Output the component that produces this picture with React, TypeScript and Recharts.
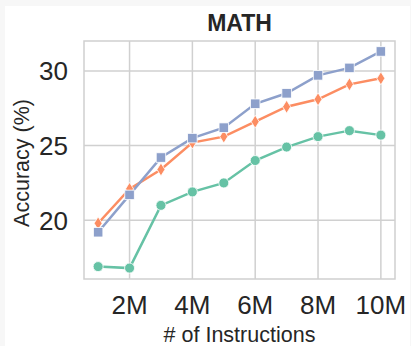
import React from 'react';
import { LineChart, Line, XAxis, YAxis, CartesianGrid, ReferenceArea } from 'recharts';

const instructions = [1, 2, 3, 4, 5, 6, 7, 8, 9, 10];
const seriesGreen = [16.9, 16.8, 21.0, 21.9, 22.5, 24.0, 24.9, 25.6, 26.0, 25.7];
const seriesOrange = [19.8, 22.1, 23.4, 25.2, 25.6, 26.6, 27.6, 28.1, 29.1, 29.5];
const seriesBlue = [19.2, 21.7, 24.2, 25.5, 26.2, 27.8, 28.5, 29.7, 30.2, 31.3];
const xTicks = [2, 4, 6, 8, 10];
const yTicks = [20, 25, 30];

const X_DOMAIN: [number, number] = [0.55, 10.45];
const Y_DOMAIN: [number, number] = [16.07, 32.0];

const data = instructions.map((x, i) => ({
  x,
  green: seriesGreen[i],
  orange: seriesOrange[i],
  blue: seriesBlue[i],
}));

const FONT = '"Liberation Sans", Arial, sans-serif';
const GRID = '#d0d0d0';

const SquareDot = (props: any) => {
  const { cx, cy } = props;
  if (cx == null || cy == null) return null;
  const s = 9.5;
  return <rect x={cx - s / 2} y={cy - s / 2} width={s} height={s} fill="#8da0cb" stroke="#fff" strokeWidth={0.8} />;
};

const DiamondDot = (props: any) => {
  const { cx, cy } = props;
  if (cx == null || cy == null) return null;
  const w = 4;
  const h = 6.5;
  return (
    <path
      d={`M${cx},${cy - h} L${cx + w},${cy} L${cx},${cy + h} L${cx - w},${cy} Z`}
      fill="#fc8d62"
      stroke="#fff"
      strokeWidth={0.8}
    />
  );
};

const CircleDot = (props: any) => {
  const { cx, cy } = props;
  if (cx == null || cy == null) return null;
  return <circle cx={cx} cy={cy} r={5} fill="#66c2a5" stroke="#fff" strokeWidth={0.8} />;
};

const YLabel = (props: any) => {
  const vb = props.viewBox || { x: 0, y: 41, width: 84, height: 238 };
  const x = 22;
  const y = vb.y + vb.height / 2 + 3;
  return (
    <text
      x={x}
      y={y}
      transform={`rotate(-90, ${x}, ${y})`}
      textAnchor="middle"
      dominantBaseline="central"
      fill="#262626"
      fontSize={21.5}
      fontFamily={FONT}
    >
      Accuracy (%)
    </text>
  );
};

export default function App() {
  return (
    <div style={{ position: 'absolute', left: 0, top: 0, width: 411, height: 346, background: '#f7f7f7', overflow: 'hidden' }}>
      <div style={{ position: 'absolute', left: 5, top: 6, width: 405, height: 340, background: '#fff' }} />
      <div
        style={{
          position: 'absolute',
          left: 84,
          top: 12,
          width: 311,
          textAlign: 'center',
          fontFamily: FONT,
          fontWeight: 'bold',
          fontSize: 23,
          lineHeight: '23px',
          color: '#262626',
        }}
      >
        MATH
      </div>
      <div style={{ position: 'absolute', left: 0, top: 0 }}>
        <LineChart width={411} height={346} data={data} margin={{ top: 41, right: 16, bottom: 0, left: 0 }}>
          <CartesianGrid stroke={GRID} strokeWidth={1.5} horizontalValues={yTicks} verticalValues={xTicks} />
          <ReferenceArea
            x1={X_DOMAIN[0]}
            x2={X_DOMAIN[1]}
            y1={Y_DOMAIN[0]}
            y2={Y_DOMAIN[1]}
            fill="none"
            stroke={GRID}
            strokeWidth={1.5}
            ifOverflow="visible"
          />
          <XAxis
            dataKey="x"
            type="number"
            domain={X_DOMAIN}
            ticks={xTicks}
            height={67}
            tickFormatter={(v: number) => `${v}M`}
            axisLine={false}
            tickLine={false}
            tickSize={0}
            tickMargin={17}
            tick={{ fill: '#262626', fontSize: 26, fontFamily: FONT }}
            allowDataOverflow
            label={{
              value: '# of Instructions',
              position: 'insideBottom',
              offset: 4,
              fill: '#262626',
              fontSize: 21.5,
              fontFamily: FONT,
            }}
          />
          <YAxis
            type="number"
            domain={Y_DOMAIN}
            ticks={yTicks}
            width={84}
            axisLine={false}
            tickLine={false}
            tickSize={0}
            tickMargin={16}
            tick={{ fill: '#262626', fontSize: 26, fontFamily: FONT }}
            allowDataOverflow
            label={<YLabel />}
          />
          <Line dataKey="green" stroke="#66c2a5" strokeWidth={2.5} dot={<CircleDot />} activeDot={false} isAnimationActive={false} />
          <Line dataKey="orange" stroke="#fc8d62" strokeWidth={2.5} dot={<DiamondDot />} activeDot={false} isAnimationActive={false} />
          <Line dataKey="blue" stroke="#8da0cb" strokeWidth={2.5} dot={<SquareDot />} activeDot={false} isAnimationActive={false} />
        </LineChart>
      </div>
    </div>
  );
}
